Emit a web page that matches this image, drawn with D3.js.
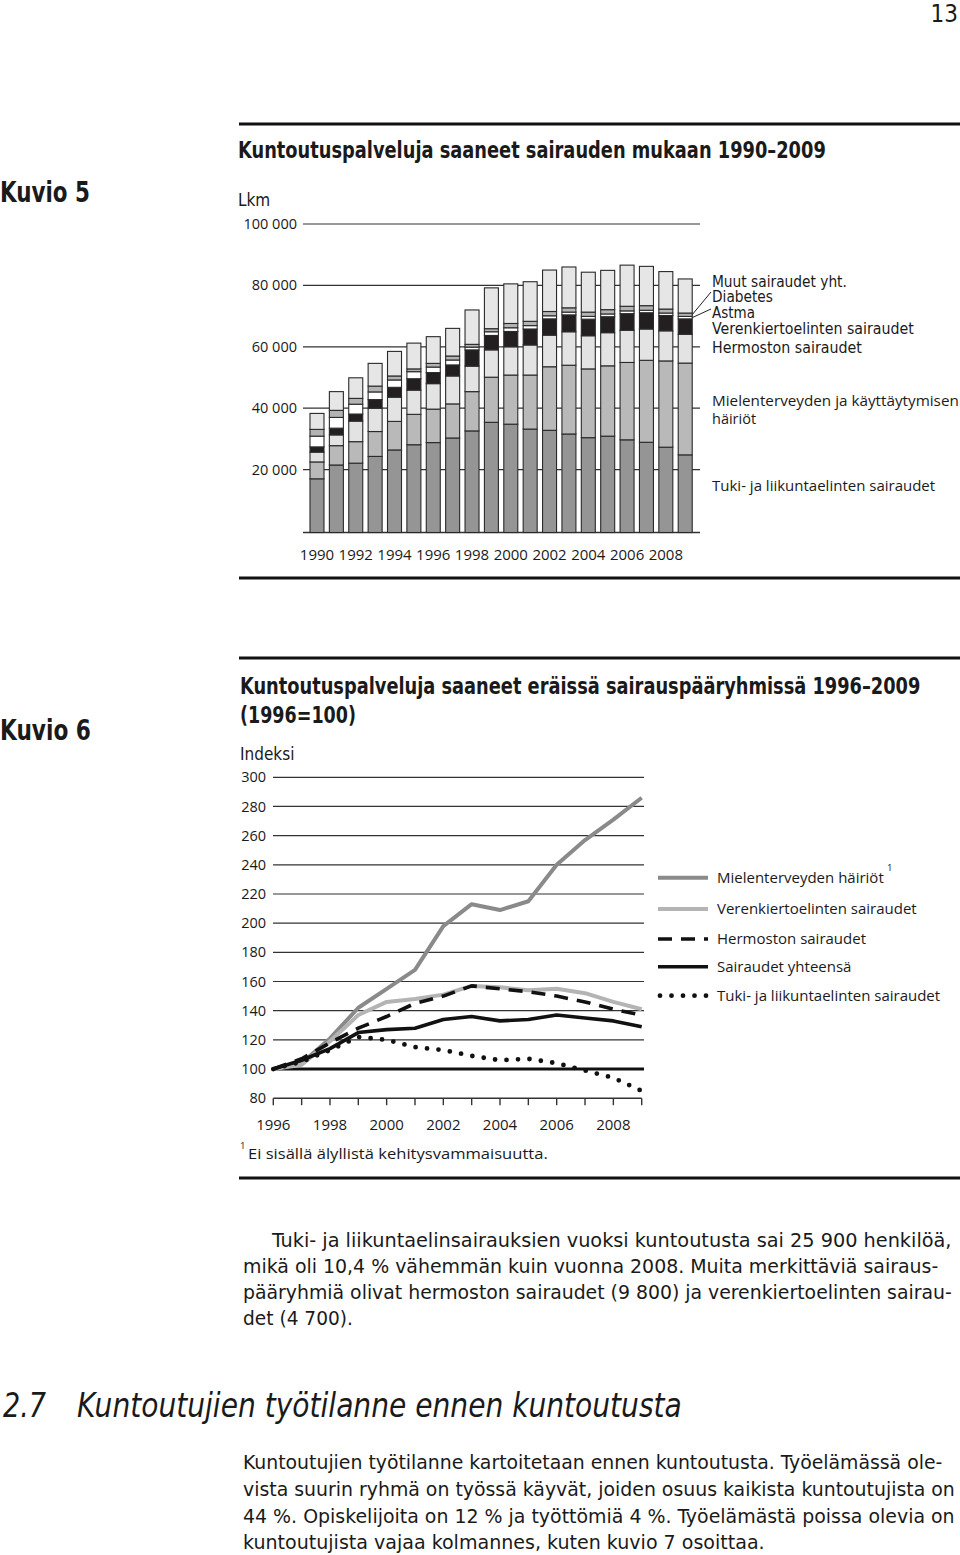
<!DOCTYPE html>
<html><head><meta charset="utf-8">
<script src="https://cdn.jsdelivr.net/npm/d3@7"></script>
<style>body{margin:0;background:#fff}svg{display:block}</style>
</head><body>
<svg id="c" width="960" height="1555"></svg>
<script>
// ---------- Kuvio 5 data (persons) ----------
const barYears = [1990,1991,1992,1993,1994,1995,1996,1997,1998,1999,2000,2001,2002,2003,2004,2005,2006,2007,2008,2009];
const tuki    = [17000,21500,22100,24300,26400,28100,28800,30300,32600,35400,34800,33200,32800,31600,30400,30900,29700,28900,27300,24800];
const mielent = [5500,6300,7000,8100,9300,9900,10900,11100,12800,14700,16000,17600,20700,22400,22400,22900,25200,26700,28100,29900];
const hermo   = [3200,3500,6700,7600,7900,7900,8300,9100,8300,8900,9200,9800,10300,10900,10800,10800,10500,10200,9800,9400];
const veren   = [1700,2200,2300,2800,3200,3700,3600,3600,5300,4700,5000,5200,5300,5500,5400,5200,5400,5300,5000,5000];
const astma   = [3500,3500,3200,2500,2400,2300,1800,1600,900,1200,1200,1100,1000,900,900,900,900,800,800,800];
const diab    = [2200,2300,1900,1900,1300,900,1200,1300,900,1000,1400,1400,1400,1400,1400,1400,1500,1500,1300,1100];
const muut    = [5200,6100,6700,7400,8000,8400,8700,9000,11200,13300,12900,12900,13500,13300,13000,12800,13400,12800,12200,11100];
const barTicks = [20000,40000,60000,80000,100000];
const barTickLabels = ["20 000","40 000","60 000","80 000","100 000"];
const barYearLabels = [1990,1992,1994,1996,1998,2000,2002,2004,2006,2008];

// ---------- Kuvio 6 data (index 1996=100) ----------
const idxYears   = [1996,1997,1998,1999,2000,2001,2002,2003,2004,2005,2006,2007,2008,2009];
const idxMielent = [100,104,121,142,155,168,198,213,209,215,240,257,271,286];
const idxVeren   = [100,103,119,137,146,148,151,157,156,154,155,152,146,141];
const idxHermo   = [100,107,118,128,136,145,150,157,155,153,150,146,141,137];
const idxTotal   = [100,106,114,125,127,128,134,136,133,134,137,135,133,129];
const idxTuki    = [100,105,113,122,120,115,113,109,106,107,104,99,94,85];
const idxTicks   = [80,100,120,140,160,180,200,220,240,260,280,300];
const idxYearLabels = [1996,1998,2000,2002,2004,2006,2008];

const SANS = "'Open Sans','DejaVu Sans',sans-serif";
const NARROW = "'Liberation Sans Narrow','Arial Narrow','DejaVu Sans Condensed',sans-serif";
const svg = d3.select("#c");
svg.append("rect").attr("width",960).attr("height",1555).attr("fill","#fff");

// text helper; opt.w fits the text to a width by a horizontal scale
function txt(x,y,s,opt={}) {
  const g = svg.append("g").attr("transform",`translate(${x},${y})`);
  const t = g.append("text").attr("x",0).attr("y",0).text(s)
    .attr("font-family",opt.font||SANS).attr("font-size",opt.size||15)
    .attr("fill",opt.fill||"#1a1a1a");
  if (opt.weight) t.attr("font-weight",opt.weight);
  if (opt.style) t.attr("font-style",opt.style);
  if (opt.anchor) t.attr("text-anchor",opt.anchor);
  if (opt.w) {
    const n = t.node().getComputedTextLength();
    if (n > 0) g.attr("transform",`translate(${x},${y}) scale(${opt.w/n},1)`);
  }
  return t;
}
function rule(y){ svg.append("line").attr("x1",239).attr("x2",960).attr("y1",y).attr("y2",y).attr("stroke","#111").attr("stroke-width",3); }

// page header
txt(958,22,"13",{font:NARROW,size:24,anchor:"end"});
rule(124);
txt(238,158,"Kuntoutuspalveluja saaneet sairauden mukaan 1990–2009",{font:NARROW,size:23,weight:"bold",w:588});
txt(0,202,"Kuvio 5",{font:NARROW,size:28,weight:"bold",w:90});
txt(238,206,"Lkm",{font:NARROW,size:17});

// ---------- bar chart ----------
const yB = d3.scaleLinear().domain([0,100000]).range([531,224]);
const xB = d3.scaleBand().domain(barYears).range([307.3,307.3+19.38*20]).paddingInner(0.2776).paddingOuter(0.1388);
const gB = svg.append("g");
barTicks.forEach((t,i)=>{
  gB.append("line").attr("x1",303).attr("x2",700).attr("y1",yB(t)).attr("y2",yB(t)).attr("stroke","#333").attr("stroke-width",1.2);
  gB.append("text").attr("x",297).attr("y",yB(t)).attr("dy","0.35em").attr("text-anchor","end")
    .attr("font-family",SANS).attr("font-size",14.5).attr("fill","#1a1a1a").text(barTickLabels[i]);
});
gB.append("line").attr("x1",303).attr("x2",700).attr("y1",yB(0)+1.5).attr("y2",yB(0)+1.5).attr("stroke","#333").attr("stroke-width",1.4);

const keys = ["tuki","mielent","hermo","veren","astma","diab","muut"];
const src = {tuki,mielent,hermo,veren,astma,diab,muut};
const rows = barYears.map((yr,i)=>{const o={year:yr}; keys.forEach(k=>o[k]=src[k][i]); return o;});
const series = d3.stack().keys(keys)(rows);
const fills = {tuki:"#959595",mielent:"#b9b9b9",hermo:"#e3e3e3",veren:"#231f20",astma:"#ffffff",diab:"#b3b3b3",muut:"#e6e6e6"};
series.forEach(s=>{
  gB.append("g").selectAll("rect").data(s).join("rect")
    .attr("x",d=>xB(d.data.year)).attr("width",xB.bandwidth())
    .attr("y",d=>yB(d[1])).attr("height",d=>yB(d[0])-yB(d[1])+ (s.key==="tuki"?1.5:0))
    .attr("fill",fills[s.key]).attr("stroke","#2a2a2a").attr("stroke-width",1.1);
});
barYearLabels.forEach(yr=>{
  gB.append("text").attr("x",xB(yr)+xB.bandwidth()/2).attr("y",560).attr("text-anchor","middle")
    .attr("font-family",SANS).attr("font-size",15).attr("fill","#1a1a1a").text(yr);
});
// legend for bars
const last = series.map(s=>s[s.length-1]);
const lastX = xB(2009)+xB.bandwidth();
const diabMid = yB((last[5][0]+last[5][1])/2), astMid = yB((last[4][0]+last[4][1])/2);
gB.append("line").attr("x1",lastX).attr("y1",diabMid).attr("x2",711).attr("y2",292).attr("stroke","#222").attr("stroke-width",1);
gB.append("line").attr("x1",lastX).attr("y1",astMid).attr("x2",711).attr("y2",309).attr("stroke","#222").attr("stroke-width",1);
const nl = {font:NARROW,size:15};
txt(712,286.5,"Muut sairaudet yht.",{...nl,w:135});
txt(712,302,"Diabetes",{...nl,w:61});
txt(712,317.5,"Astma",{...nl,w:43});
txt(712,334,"Verenkiertoelinten sairaudet",{...nl,w:202});
txt(712,353,"Hermoston sairaudet",{...nl,w:150});
txt(712,405.5,"Mielenterveyden ja käyttäytymisen",{size:14.5,w:247});
txt(712,424,"häiriöt",{size:14.5});
txt(712,491,"Tuki- ja liikuntaelinten sairaudet",{size:15});

rule(578);
rule(658);

// ---------- line chart ----------
txt(240,694,"Kuntoutuspalveluja saaneet eräissä sairauspääryhmissä 1996–2009",{font:NARROW,size:23,weight:"bold",w:681});
txt(240,723,"(1996=100)",{font:NARROW,size:23,weight:"bold",w:116});
txt(0,740,"Kuvio 6",{font:NARROW,size:28,weight:"bold",w:91});
txt(240,760,"Indeksi",{font:NARROW,size:17});

const yL = d3.scaleLinear().domain([80,300]).range([1098.2,777.3]);
const xL = d3.scaleLinear().domain([1996,2009]).range([273.3,641.7]);
const gL = svg.append("g");
idxTicks.forEach(t=>{
  if (t>80) gL.append("line").attr("x1",273).attr("x2",644).attr("y1",yL(t)).attr("y2",yL(t))
      .attr("stroke",t===100?"#111":"#333").attr("stroke-width",t===100?3:1.2);
  gL.append("text").attr("x",266).attr("y",yL(t)).attr("dy","0.35em").attr("text-anchor","end")
    .attr("font-family",SANS).attr("font-size",14.5).attr("fill","#1a1a1a").text(t);
});
gL.append("line").attr("x1",xL(1996)).attr("x2",xL(2009)).attr("y1",yL(80)).attr("y2",yL(80)).attr("stroke","#333").attr("stroke-width",1.4);
idxYears.forEach(yr=>{
  gL.append("line").attr("x1",xL(yr)).attr("x2",xL(yr)).attr("y1",yL(80)).attr("y2",yL(80)+7).attr("stroke","#333").attr("stroke-width",1.4);
});
idxYearLabels.forEach(yr=>{
  gL.append("text").attr("x",xL(yr)).attr("y",1130).attr("text-anchor","middle")
    .attr("font-family",SANS).attr("font-size",15).attr("fill","#1a1a1a").text(yr);
});
const styles = [
  {name:"Mielenterveyden häiriöt", data:idxMielent, stroke:"#8a8a8a", w:4, dash:null},
  {name:"Verenkiertoelinten sairaudet", data:idxVeren, stroke:"#b4b4b4", w:4, dash:null},
  {name:"Hermoston sairaudet", data:idxHermo, stroke:"#111", w:3.6, dash:"14 9"},
  {name:"Sairaudet yhteensä", data:idxTotal, stroke:"#111", w:3.6, dash:null},
  {name:"Tuki- ja liikuntaelinten sairaudet", data:idxTuki, stroke:"#111", w:4.8, dash:"0 11.5", cap:"round"}
];
const line = d3.line().x((d,i)=>xL(idxYears[i])).y(d=>yL(d));
const legY = [877.7,909,939,966.7,995.7];
styles.forEach((s,i)=>{
  const p = gL.append("path").attr("d",line(s.data)).attr("fill","none").attr("stroke",s.stroke)
    .attr("stroke-width",s.w).attr("stroke-linejoin","round");
  if (s.dash) p.attr("stroke-dasharray",s.dash);
  if (s.cap) p.attr("stroke-linecap",s.cap);
  const l = gL.append("line").attr("x1",s.cap?660:658).attr("x2",708).attr("y1",legY[i]).attr("y2",legY[i])
    .attr("stroke",s.stroke).attr("stroke-width",s.w);
  if (s.dash) l.attr("stroke-dasharray",s.dash);
  if (s.cap) l.attr("stroke-linecap",s.cap);
  txt(717,legY[i]+5,s.name,{size:15});
});
txt(887,871,"1",{size:9.5});

txt(240,1149,"1",{size:9.5});
txt(248,1159,"Ei sisällä älyllistä kehitysvammaisuutta.",{size:14,w:300});

rule(1178);

// ---------- body text ----------
const body = {font:NARROW,size:20};
txt(272,1247,"Tuki- ja liikuntaelinsairauksien vuoksi kuntoutusta sai 25 900 henkilöä,",{...body,w:680});
txt(243,1273,"mikä oli 10,4 % vähemmän kuin vuonna 2008. Muita merkittäviä sairaus-",{...body,w:696});
txt(243,1299,"pääryhmiä olivat hermoston sairaudet (9 800) ja verenkiertoelinten sairau-",{...body,w:709});
txt(243,1325,"det (4 700).",{...body,w:110});

txt(3,1417,"2.7",{font:NARROW,size:34,style:"italic",w:43});
txt(77,1417,"Kuntoutujien työtilanne ennen kuntoutusta",{font:NARROW,size:34,style:"italic",w:605});

txt(243,1469,"Kuntoutujien työtilanne kartoitetaan ennen kuntoutusta. Työelämässä ole-",{...body,w:700});
txt(243,1496,"vista suurin ryhmä on työssä käyvät, joiden osuus kaikista kuntoutujista on",{...body,w:712});
txt(243,1523,"44 %. Opiskelijoita on 12 % ja työttömiä 4 %. Työelämästä poissa olevia on",{...body,w:712});
txt(243,1549,"kuntoutujista vajaa kolmannes, kuten kuvio 7 osoittaa.",{...body,w:522});
</script>
</body></html>
